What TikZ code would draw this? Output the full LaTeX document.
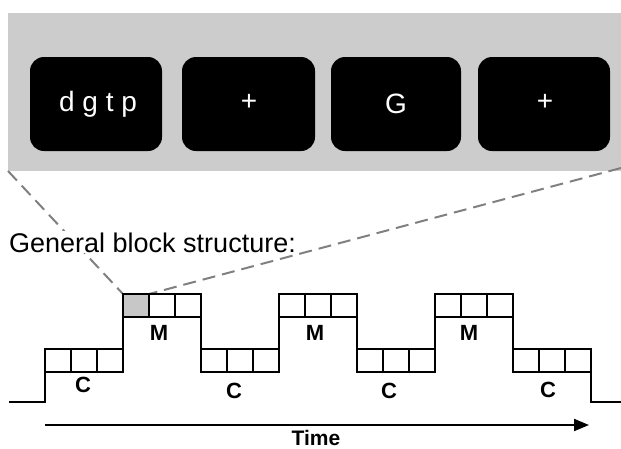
\documentclass[tikz,border=0pt]{standalone}
\usepackage{fontspec}
\setmainfont{Liberation Sans}
\usetikzlibrary{arrows.meta}

\tikzset{
    screen/.style={fill=black, rounded corners=14pt},
    screentext/.style={text=white, font=\fontsize{28}{30}\selectfont},
    cell/.style={draw=black, line width=2pt},
    wave/.style={draw=black, line width=2pt, line join=miter},
    zoomline/.style={draw=black!50, line width=2pt, dash pattern=on 13pt off 7pt},
    steplabel/.style={font=\fontsize{22}{24}\selectfont\bfseries},
}

\begin{document}
\begin{tikzpicture}[x=1pt, y=-1pt]
    \useasboundingbox (0, 0) rectangle (621, 448);

    \fill[black!20] (8, 13) rectangle (621, 171);
    \coordinate (panelbl) at (8, 171);
    \coordinate (panelbr) at (621, 168);

    \fill[screen] (30, 57) rectangle (162, 151);
    \fill[screen] (182, 57) rectangle (315, 151);
    \fill[screen] (331, 57) rectangle (461, 151);
    \fill[screen] (478, 57) rectangle (610, 151);
    \node[screentext] (letters) at (98, 104) {d g t p};
    \node[screentext] (fix1) at (249, 102) {+};
    \node[screentext] (probe) at (396, 104) {G};
    \node[screentext] (fix2) at (545, 102) {+};

    \fill[black!22] (123, 294) rectangle (149, 316.5);
    \coordinate (celltl) at (123, 294);
    \coordinate (celltr) at (149, 294);
    \draw[zoomline] (panelbl) -- (celltl);
    \draw[zoomline] (panelbr) -- (celltr);

    \node[anchor=base west, fill=white, inner sep=1pt, font=\fontsize{27}{30}\selectfont]
        (title) at (8, 252) {General block structure:};

    \draw[wave] (9, 402) -- (45, 402) -- (45, 349);
    \foreach \x in {45, 201, 357, 513} {
        \foreach \i in {0, 1, 2} {
            \draw[cell] ({\x+26*\i}, 349) rectangle ++(26, 22.5);
        }
    }
    \foreach \x in {123, 279, 435} {
        \foreach \i in {0, 1, 2} {
            \draw[cell] ({\x+26*\i}, 294) rectangle ++(26, 22.5);
        }
    }
    \draw[wave] (123, 371.5) -- (123, 294);
    \draw[wave] (201, 294) -- (201, 371.5);
    \draw[wave] (279, 371.5) -- (279, 294);
    \draw[wave] (357, 294) -- (357, 371.5);
    \draw[wave] (435, 371.5) -- (435, 294);
    \draw[wave] (513, 294) -- (513, 371.5);
    \draw[wave] (591, 349) -- (591, 402) -- (621, 402);

    \node[steplabel] (c1) at (83, 385) {C};
    \node[steplabel] (c2) at (234, 391) {C};
    \node[steplabel] (c3) at (389, 391) {C};
    \node[steplabel] (c4) at (548, 390) {C};
    \node[steplabel] (m1) at (159, 333) {M};
    \node[steplabel] (m2) at (315, 333) {M};
    \node[steplabel] (m3) at (469, 333) {M};

    \coordinate (tstart) at (45, 425);
    \coordinate (tend) at (589, 425);
    \draw[line width=2pt, -{Triangle[length=15pt, width=12pt]}] (tstart) -- (tend);
    \node[anchor=base, font=\fontsize{21}{22}\selectfont\bfseries] (time) at (316, 445) {Time};
\end{tikzpicture}
\end{document}
